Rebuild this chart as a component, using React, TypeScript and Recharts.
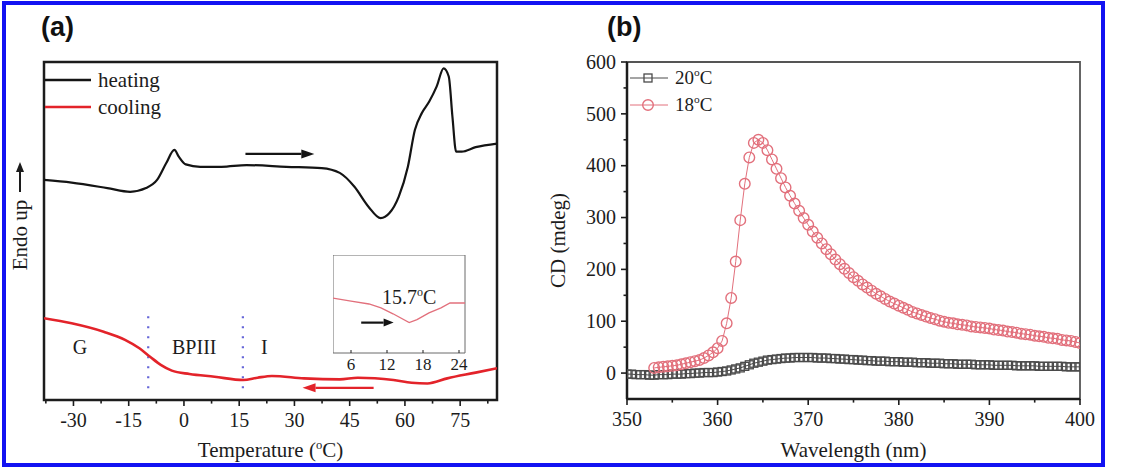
import React from "react";
import {
  Label,
  Legend,
  Line,
  LineChart,
  ReferenceArea,
  ReferenceDot,
  ReferenceLine,
  XAxis,
  YAxis,
} from "recharts";

const SERIF = '"Liberation Serif", "Times New Roman", serif';
const INK = "#1c1c1c";
const HEAT = "#141414";
const COOL = "#e3232a";
const DIVIDER = "#6565d8";
const CD20 = "#4a4a4a";
const CD18 = "#e2707c";

// (a) DSC traces, temperature in °C vs heat flow (arb. units, endo up)
const heatT = [-38, -30.5, -20.8, -14.6, -10.3, -7.3, -4.8, -2.6, -1.4, 0.5, 4.4, 10.2, 17, 27.8, 37.4, 42.3, 46.3, 50.1, 53.4, 55.8, 58.3, 60.8, 62.7, 64.6, 66.6, 68.6, 70.5, 71.9, 72.9, 73.9, 75.4, 79.2, 85.2];
const heatV = [65.1, 64.3, 62.7, 61.6, 62.7, 65.1, 70.1, 74.0, 72.0, 69.7, 69.0, 69.0, 69.5, 69.0, 68.6, 67.2, 63.1, 57.2, 53.8, 55.3, 60.1, 69.0, 79.9, 84.9, 88.3, 92.7, 98.1, 95.7, 83.8, 73.5, 73.5, 74.8, 75.9];
const coolT = [-38, -30.5, -21.8, -16, -12.1, -9.2, -6.3, -3.3, 1.5, 8.3, 16.1, 20, 23.9, 32.6, 42.3, 47.2, 56.9, 61.8, 66.1, 71.5, 79.2, 85];
const coolV = [24.2, 22.7, 20.2, 17.8, 15.3, 12.8, 10.4, 8.7, 7.7, 6.9, 5.9, 6.6, 7.1, 6.4, 6.1, 6.6, 5.9, 5.1, 4.9, 6.4, 8.1, 9.4];

// zoom on the BPIII -> I transition during cooling
const insetT = [3, 6, 9, 11, 13, 15.7, 17, 19, 21, 22.5, 25];
const insetV = [56, 53, 50, 46, 40, 31, 34, 41, 46, 51, 51];

const tMajor = [-30, -15, 0, 15, 30, 45, 60, 75];
const tMinor = [-37.5, -22.5, -7.5, 7.5, 22.5, 37.5, 52.5, 67.5, 82.5];
const insetTicks = [6, 12, 18, 24];

// phase boundaries and labels
const boundaries = [-9.7, 16];
const phases = [
  { name: "G", t: -28.2 },
  { name: "BPIII", t: 2.8 },
  { name: "I", t: 21.8 },
];

// (b) CD spectra
const wl20 = [350, 350.5, 351, 351.5, 352, 352.5, 353, 353.5, 354, 354.5, 355, 355.5, 356, 356.5, 357, 357.5, 358, 358.5, 359, 359.5, 360, 360.5, 361, 361.5, 362, 362.5, 363, 363.5, 364, 364.5, 365, 365.5, 366, 366.5, 367, 367.5, 368, 368.5, 369, 369.5, 370, 370.5, 371, 371.5, 372, 372.5, 373, 373.5, 374, 374.5, 375, 375.5, 376, 376.5, 377, 377.5, 378, 378.5, 379, 379.5, 380, 380.5, 381, 381.5, 382, 382.5, 383, 383.5, 384, 384.5, 385, 385.5, 386, 386.5, 387, 387.5, 388, 388.5, 389, 389.5, 390, 390.5, 391, 391.5, 392, 392.5, 393, 393.5, 394, 394.5, 395, 395.5, 396, 396.5, 397, 397.5, 398, 398.5, 399, 399.5, 400];
const cd20 = [-2, -2, -3, -3, -3, -4, -4, -3, -3, -3, -2, -2, -2, -1, -1, 0, 0, 1, 1, 1, 2, 3, 4, 6, 8, 10, 13, 16, 19, 21, 23, 25, 26, 27, 28, 29, 29, 30, 30, 30, 30, 30, 29, 29, 29, 28, 28, 27, 27, 26, 26, 25, 25, 24, 24, 23, 23, 23, 22, 22, 22, 21, 21, 21, 20, 20, 20, 19, 19, 19, 18, 18, 18, 17, 17, 17, 17, 16, 16, 16, 16, 15, 15, 15, 15, 15, 14, 14, 14, 14, 14, 13, 13, 13, 13, 13, 13, 12, 12, 12, 12];
const wl18 = wl20.slice(6);
const cd18 = [10, 11, 12, 13, 14, 15, 17, 19, 21, 23, 25, 29, 34, 40, 48, 62, 96, 145, 215, 295, 365, 416, 444, 450, 444, 430, 412, 394, 376, 358, 342, 327, 313, 299, 286, 273, 261, 250, 239, 229, 219, 210, 201, 193, 185, 178, 171, 165, 159, 153, 148, 143, 138, 134, 130, 126, 122, 118, 115, 112, 109, 106, 104, 101, 99, 97, 96, 94, 93, 92, 90, 89, 88, 87, 86, 84, 83, 82, 80, 79, 78, 76, 75, 74, 72, 71, 70, 68, 67, 66, 64, 63, 62, 60, 58];

const wlMajor = [350, 360, 370, 380, 390, 400];
const wlMinor = [355, 365, 375, 385, 395];
const cdMajor = [0, 100, 200, 300, 400, 500, 600];
const cdMinor = [50, 150, 250, 350, 450, 550];

const heating = heatT.map((t, i) => ({ t, v: heatV[i] }));
const cooling = coolT.map((t, i) => ({ t, v: coolV[i] }));
const inset = insetT.map((t, i) => ({ t, v: insetV[i] }));
const spec20 = wl20.map((w, i) => ({ w, v: cd20[i] }));
const spec18 = wl18.map((w, i) => ({ w, v: cd18[i] }));

const sorted = (a: number[], b: number[]) => [...a, ...b].sort((p, q) => p - q);

function BottomTick({ x, y, payload, majors, size = 20, len = 6, inward = false, gap = 27 }: any) {
  const major = majors.includes(payload.value);
  const l = major ? len : len * 0.6;
  return (
    <g>
      <line x1={x} x2={x} y1={y} y2={inward ? y - l : y + l} stroke={INK} strokeWidth={inward ? 1 : 1.6} />
      {major && (
        <text x={x} y={y + gap} textAnchor="middle" style={{ fontFamily: SERIF, fontSize: size }} fill={INK}>
          {payload.value}
        </text>
      )}
    </g>
  );
}

function LeftTick({ x, y, payload, majors }: any) {
  const major = majors.includes(payload.value);
  return (
    <g>
      <line x1={x} x2={x - (major ? 6 : 3.5)} y1={y} y2={y} stroke={INK} strokeWidth={1.6} />
      {major && (
        <text x={x - 11} y={y} dy="0.34em" textAnchor="end" style={{ fontFamily: SERIF, fontSize: 20 }} fill={INK}>
          {payload.value}
        </text>
      )}
    </g>
  );
}

function Degree({ children }: { children: string }) {
  return (
    <>
      <tspan dy={-8} fontSize="0.6em">o</tspan>
      <tspan dy={8}>{children}</tspan>
    </>
  );
}

function Arrow({ x1, y1, x2, y2, stroke, strokeWidth, head = 13, half = 4.5 }: any) {
  const a = Math.atan2(y2 - y1, x2 - x1);
  const bx = x2 - head * Math.cos(a);
  const by = y2 - head * Math.sin(a);
  const px = -Math.sin(a) * half;
  const py = Math.cos(a) * half;
  return (
    <g>
      <line x1={x1} y1={y1} x2={bx} y2={by} stroke={stroke} strokeWidth={strokeWidth} />
      <polygon points={`${x2},${y2} ${bx + px},${by + py} ${bx - px},${by - py}`} fill={stroke} />
    </g>
  );
}

function EndoTitle({ viewBox }: any) {
  const { x, y, width, height } = viewBox;
  const cx = x + width - 24;
  const cy = y + height / 2 + 4;
  return (
    <g>
      <text
        x={cx}
        y={cy}
        transform={`rotate(-90 ${cx} ${cy})`}
        textAnchor="middle"
        dominantBaseline="central"
        style={{ fontFamily: SERIF, fontSize: 21 }}
        fill={INK}
      >
        Endo up
      </text>
      <Arrow x1={cx} y1={cy - 43} x2={cx} y2={cy - 73} stroke={INK} strokeWidth={2} head={10} half={4} />
    </g>
  );
}

function RotatedTitle({ viewBox, text, dx, shift }: any) {
  const { x, y, height } = viewBox;
  const cx = x + dx;
  const cy = y + height / 2 + shift;
  return (
    <text
      x={cx}
      y={cy}
      transform={`rotate(-90 ${cx} ${cy})`}
      textAnchor="middle"
      dominantBaseline="central"
      style={{ fontFamily: SERIF, fontSize: 21 }}
      fill={INK}
    >
      {text}
    </text>
  );
}

function TempTitle({ viewBox }: any) {
  const { x, y, width } = viewBox;
  return (
    <text x={x + width / 2} y={y + 57} textAnchor="middle" style={{ fontFamily: SERIF, fontSize: 21 }} fill={INK}>
      Temperature (<Degree>C)</Degree>
    </text>
  );
}

function WaveTitle({ viewBox }: any) {
  const { x, y, width } = viewBox;
  return (
    <text x={x + width / 2} y={y + 58} textAnchor="middle" style={{ fontFamily: SERIF, fontSize: 21 }} fill={INK}>
      Wavelength (nm)
    </text>
  );
}

function InsetLabel({ viewBox }: any) {
  const { x, y } = viewBox;
  return (
    <text x={x} y={y} dy="0.35em" textAnchor="middle" style={{ fontFamily: SERIF, fontSize: 20 }} fill={INK}>
      15.7<Degree>C</Degree>
    </text>
  );
}

const dscKeys = [
  { name: "heating", color: HEAT },
  { name: "cooling", color: COOL },
];

function DscLegend() {
  return (
    <svg width={140} height={56}>
      {dscKeys.map((k, i) => (
        <g key={k.name}>
          <line x1={1} x2={47} y1={14 + i * 27} y2={14 + i * 27} stroke={k.color} strokeWidth={2.4} />
          <text x={54} y={14 + i * 27} dy="0.32em" style={{ fontFamily: SERIF, fontSize: 21 }} fill={INK}>
            {k.name}
          </text>
        </g>
      ))}
    </svg>
  );
}

const cdKeys = [
  { temp: "20", color: CD20, shape: "square" },
  { temp: "18", color: CD18, shape: "circle" },
];

function Marker({ cx, cy, shape, color }: any) {
  if (shape === "square") {
    return <rect x={cx - 4} y={cy - 4} width={8} height={8} fill="none" stroke={color} strokeWidth={1.3} />;
  }
  return <circle cx={cx} cy={cy} r={5.3} fill="none" stroke={color} strokeWidth={1.4} />;
}

function CdLegend() {
  return (
    <svg width={120} height={56}>
      {cdKeys.map((k, i) => (
        <g key={k.temp}>
          <line x1={2} x2={40} y1={14 + i * 27} y2={14 + i * 27} stroke={k.color} strokeWidth={1} />
          <Marker cx={20} cy={14 + i * 27} shape={k.shape} color={k.color} />
          <text x={47} y={14 + i * 27} dy="0.34em" style={{ fontFamily: SERIF, fontSize: 19 }} fill={INK}>
            {k.temp}
            <Degree>C</Degree>
          </text>
        </g>
      ))}
    </svg>
  );
}

function DscPanel() {
  return (
    <LineChart width={560} height={467} margin={{ top: 62, right: 63, left: 0, bottom: 0 }}>
      <XAxis
        type="number"
        dataKey="t"
        domain={[-38, 85]}
        ticks={sorted(tMajor, tMinor)}
        interval={0}
        tickSize={0}
        tickMargin={0}
        tickLine={false}
        axisLine={false}
        height={67}
        allowDataOverflow
        tick={(p: any) => <BottomTick {...p} majors={tMajor} />}
      >
        <Label content={TempTitle} />
      </XAxis>
      <YAxis type="number" domain={[0, 100]} width={44} tick={false} tickLine={false} axisLine={false}>
        <Label content={EndoTitle} />
      </YAxis>
      <ReferenceArea x1={-38} x2={85} y1={0} y2={100} fill="none" stroke={INK} strokeWidth={2.5} />
      {boundaries.map((t) => (
        <ReferenceLine
          key={t}
          segment={[{ x: t, y: 3.5 }, { x: t, y: 26.5 }]}
          stroke={DIVIDER}
          strokeWidth={2.2}
          strokeDasharray="2 8"
        />
      ))}
      {phases.map((p) => (
        <ReferenceDot
          key={p.name}
          x={p.t}
          y={15.7}
          r={0}
          fill="none"
          stroke="none"
          label={{ value: p.name, position: "center", fontSize: 20, fontFamily: SERIF, fill: INK }}
        />
      ))}
      <ReferenceLine
        segment={[{ x: 16.7, y: 72.8 }, { x: 35.4, y: 72.8 }]}
        stroke={HEAT}
        strokeWidth={2.2}
        shape={(p: any) => <Arrow {...p} />}
      />
      <ReferenceLine
        segment={[{ x: 51.5, y: 3.6 }, { x: 32.2, y: 3.6 }]}
        stroke={COOL}
        strokeWidth={2.4}
        shape={(p: any) => <Arrow {...p} />}
      />
      <Line data={heating} dataKey="v" type="monotone" stroke={HEAT} strokeWidth={2.2} dot={false} activeDot={false} isAnimationActive={false} />
      <Line data={cooling} dataKey="v" type="monotone" stroke={COOL} strokeWidth={2.6} dot={false} activeDot={false} isAnimationActive={false} />
      <Legend
        verticalAlign="middle"
        align="center"
        content={() => <DscLegend />}
        wrapperStyle={{ left: 44, top: 66, width: 140, height: 56 }}
      />
    </LineChart>
  );
}

function InsetPanel() {
  return (
    <LineChart width={152} height={120} margin={{ top: 0, right: 20, left: 0, bottom: 0 }}>
      <XAxis
        type="number"
        dataKey="t"
        domain={[3, 25]}
        ticks={insetTicks}
        interval={0}
        tickSize={0}
        tickMargin={0}
        tickLine={false}
        axisLine={false}
        height={22}
        allowDataOverflow
        tick={(p: any) => <BottomTick {...p} majors={insetTicks} size={17} len={3} inward gap={17} />}
      />
      <YAxis type="number" domain={[0, 100]} hide />
      <ReferenceArea x1={3} x2={25} y1={0} y2={100} fill="none" stroke="#6a6a6a" strokeWidth={1} />
      <ReferenceDot x={15.7} y={57} r={0} fill="none" stroke="none" label={<InsetLabel />} />
      <ReferenceLine
        segment={[{ x: 7.7, y: 31 }, { x: 13.1, y: 31 }]}
        stroke={HEAT}
        strokeWidth={2.2}
        shape={(p: any) => <Arrow {...p} head={10} half={4} />}
      />
      <Line data={inset} dataKey="v" type="linear" stroke={CD18} strokeWidth={1.3} dot={false} activeDot={false} isAnimationActive={false} />
    </LineChart>
  );
}

function CdPanel() {
  return (
    <LineChart width={599} height={467} margin={{ top: 62, right: 49, left: 0, bottom: 0 }}>
      <XAxis
        type="number"
        dataKey="w"
        domain={[350, 400]}
        ticks={sorted(wlMajor, wlMinor)}
        interval={0}
        tickSize={0}
        tickMargin={0}
        tickLine={false}
        axisLine={{ stroke: INK, strokeWidth: 2.5 }}
        height={68}
        allowDataOverflow
        tick={(p: any) => <BottomTick {...p} majors={wlMajor} />}
      >
        <Label content={WaveTitle} />
      </XAxis>
      <YAxis
        type="number"
        domain={[-50, 600]}
        ticks={sorted(cdMajor, cdMinor)}
        interval={0}
        width={97}
        tickSize={0}
        tickMargin={0}
        tickLine={false}
        axisLine={{ stroke: INK, strokeWidth: 2.5 }}
        allowDataOverflow
        tick={(p: any) => <LeftTick {...p} majors={cdMajor} />}
      >
        <Label content={(p: any) => <RotatedTitle {...p} text="CD (mdeg)" dx={28} shift={10} />} />
      </YAxis>
      <ReferenceArea x1={350} x2={400} y1={-50} y2={600} fill="none" stroke="#555" strokeWidth={1.8} />
      <Line
        data={spec20}
        dataKey="v"
        type="linear"
        stroke={CD20}
        strokeWidth={1}
        dot={(p: any) => <Marker key={p.index} cx={p.cx} cy={p.cy} shape="square" color={CD20} />}
        activeDot={false}
        isAnimationActive={false}
      />
      <Line
        data={spec18}
        dataKey="v"
        type="linear"
        stroke={CD18}
        strokeWidth={1}
        dot={(p: any) => <Marker key={p.index} cx={p.cx} cy={p.cy} shape="circle" color={CD18} />}
        activeDot={false}
        isAnimationActive={false}
      />
      <Legend
        verticalAlign="middle"
        align="center"
        content={() => <CdLegend />}
        wrapperStyle={{ left: 98, top: 64, width: 120, height: 56 }}
      />
    </LineChart>
  );
}

const tag: React.CSSProperties = {
  position: "absolute",
  fontFamily: '"Liberation Sans", Arial, sans-serif',
  fontWeight: 700,
  fontSize: 27,
  lineHeight: "27px",
  color: "#111",
};

export default function App() {
  return (
    <div style={{ position: "absolute", left: 0, top: 0, width: 1129, height: 467, background: "#fff" }}>
      <div
        style={{
          position: "absolute",
          left: 2,
          top: 1,
          width: 1103,
          height: 466,
          boxSizing: "border-box",
          border: "4px solid #1212f2",
        }}
      />
      <div style={{ ...tag, left: 41, top: 14 }}>(a)</div>
      <div style={{ ...tag, left: 607, top: 14 }}>(b)</div>
      <div style={{ position: "absolute", left: 0, top: 0 }}>
        <DscPanel />
      </div>
      <div style={{ position: "absolute", left: 333, top: 255 }}>
        <InsetPanel />
      </div>
      <div style={{ position: "absolute", left: 530, top: 0 }}>
        <CdPanel />
      </div>
    </div>
  );
}
